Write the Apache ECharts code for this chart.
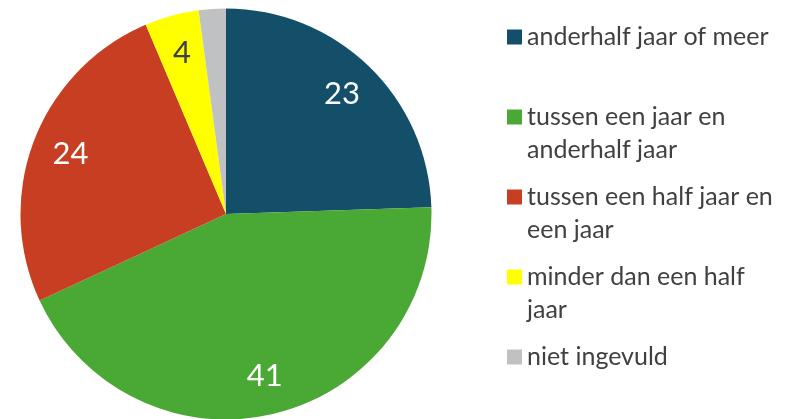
<!DOCTYPE html>
<html>
<head>
<meta charset="utf-8">
<script src="https://cdn.jsdelivr.net/npm/echarts@6/dist/echarts.min.js"></script>
<style>
html, body { margin: 0; padding: 0; background: #fff; }
#chart { width: 786px; height: 419px; }
</style>
</head>
<body>
<div id="chart"></div>
<script>
// duur - aantal respondenten
var categories = ['anderhalf jaar of meer', 'tussen een jaar en anderhalf jaar', 'tussen een half jaar en een jaar', 'minder dan een half jaar', 'niet ingevuld'];
var values = [23, 41, 24, 4, 2];
var legendLines = [
	['anderhalf jaar of meer'],
	['tussen een jaar en', 'anderhalf jaar'],
	['tussen een half jaar en', 'een jaar'],
	['minder dan een half', 'jaar'],
	['niet ingevuld']
];
var colors = ['#144f6a', '#4aa834', '#c83e22', '#ffff00', '#c0c1c3'];
var labelColors = ['#ffffff', '#ffffff', '#ffffff', '#404040', '#404040'];
var showLabel = [true, true, true, true, false];

var font = 'Lato';

var pieData = categories.map(function (c, i) {
	return { name: c, value: values[i], itemStyle: { color: colors[i] } };
});

var labelData = categories.map(function (c, i) {
	return {
		name: c,
		value: values[i],
		label: { show: showLabel[i], color: labelColors[i] }
	};
});

var legendData = categories.map(function (c, i) {
	return { name: c, itemStyle: { color: colors[i] } };
});

var chartDom = document.getElementById('chart');
var myChart = echarts.init(chartDom);
var option;
option = {
	animation: false,
	legend: {
		orient: 'vertical',
		left: 507,
		top: -12.5,
		padding: 0,
		itemGap: -19,
		itemWidth: 15,
		itemHeight: 15,
		icon: 'rect',
		selectedMode: false,
		data: legendData,
		formatter: function (name) {
			// altijd 3 regels: de eerste tekstregel staat dan naast het blokje
			var l = legendLines[categories.indexOf(name)];
			return ' \n' + l[0] + '\n' + (l[1] || ' ');
		},
		textStyle: {
			fontFamily: font,
			fontSize: 25,
			lineHeight: 33,
			color: '#404040'
		}
	},
	series: [
		{
			name: 'duur',
			type: 'pie',
			center: [226, 214],
			radius: 205.5,
			startAngle: 90,
			clockwise: true,
			silent: true,
			label: { show: false },
			labelLine: { show: false },
			data: pieData
		},
		{
			// transparante ring, alleen voor de labels
			name: 'labels',
			type: 'pie',
			center: [226, 214],
			radius: [122, 205.5],
			startAngle: 90,
			clockwise: true,
			silent: true,
			itemStyle: { color: 'rgba(0,0,0,0)' },
			label: {
				position: 'inside',
				formatter: '{c}',
				fontFamily: font,
				fontSize: 31
			},
			labelLine: { show: false },
			data: labelData
		}
	]
};
option && myChart.setOption(option);
</script>
</body>
</html>
